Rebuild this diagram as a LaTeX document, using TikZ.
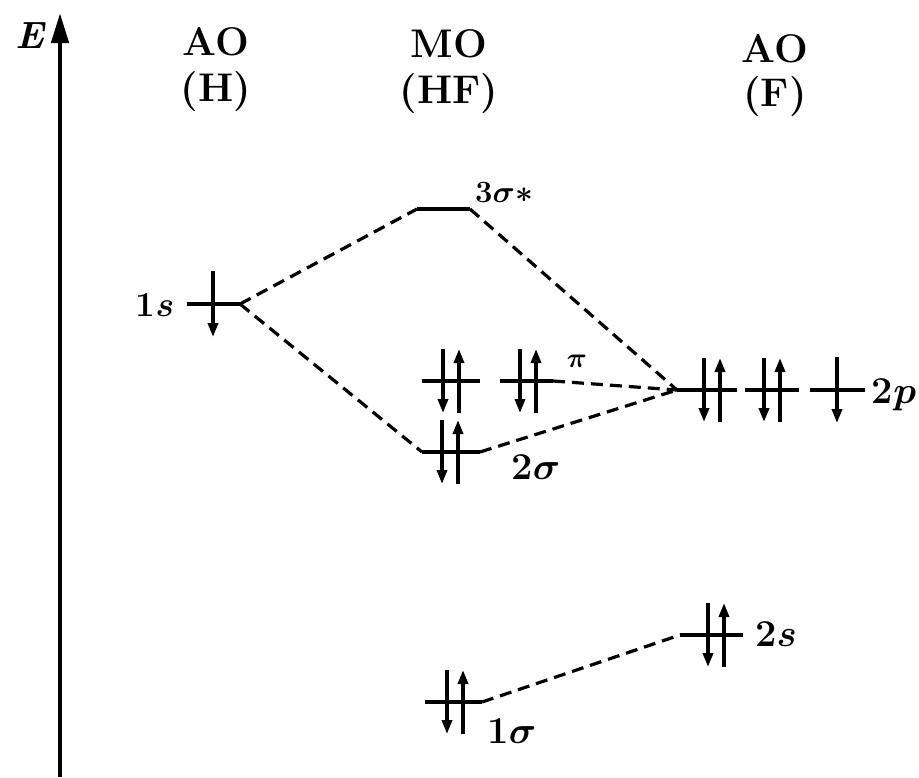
\RequirePackage{fix-cm}
\documentclass[tikz,border=0pt]{standalone}
\usetikzlibrary{arrows.meta}
\begin{document}
\begin{tikzpicture}[x=1pt,y=-1pt,
  lvl/.style={line width=4.5pt},
  conn/.style={line width=3.2pt, dash pattern=on 12pt off 7pt},
  elec/.style={line width=3.4pt,-{Triangle[length=14pt,width=10pt]}},
  hdr/.style={font=\fontsize{40}{48}\selectfont\bfseries, inner sep=0pt},
  lab/.style={font=\fontsize{38}{44}\selectfont\bfseries\boldmath, inner sep=0pt},
  pics/pair/.style={code={\draw[elec] (-8,-32) -- (-8,32); \draw[elec] (8,32) -- (8,-32);}},
  pics/single/.style={code={\draw[elec] (0,-33) -- (0,33);}}]
\useasboundingbox (0,0) rectangle (919,777);

% energy axis
\coordinate (ax0) at (60,777);
\coordinate (ax1) at (60,13);
\draw[line width=4.5pt,-{Triangle[length=30pt,width=17pt]}] (ax0) -- (ax1);
\node[font=\fontsize{38}{44}\selectfont\bfseries\itshape, inner sep=0pt] (E) at (30,36) {E};

% headers
\node[hdr] (aoh)  at (216,42) {AO};
\node[hdr] (aohl) at (216,92) {(H)};
\node[hdr] (mo)   at (449,44) {MO};
\node[hdr] (mol)  at (449,94) {(HF)};
\node[hdr] (aof)  at (775,49) {AO};
\node[hdr] (aofl) at (775,97) {(F)};

% levels
\coordinate (s1L) at (187,304);  \coordinate (s1R) at (240,304);
\coordinate (s3L) at (417,209);  \coordinate (s3R) at (470,209);
\coordinate (pi1L) at (422,381); \coordinate (pi1R) at (480,381);
\coordinate (pi2L) at (500,381); \coordinate (pi2R) at (553,381);
\coordinate (s2L) at (422,452);  \coordinate (s2R) at (480,452);
\coordinate (p1L) at (677,390);  \coordinate (p1R) at (737,390);
\coordinate (p2L) at (745,390);  \coordinate (p2R) at (799,390);
\coordinate (p3L) at (810,390);  \coordinate (p3R) at (865,390);
\coordinate (ssL) at (680,635);  \coordinate (ssR) at (743,635);
\coordinate (s1sL) at (425,702); \coordinate (s1sR) at (482,702);

\foreach \a/\b in {s1L/s1R,s3L/s3R,pi1L/pi1R,pi2L/pi2R,s2L/s2R,p1L/p1R,p2L/p2R,p3L/p3R,ssL/ssR,s1sL/s1sR}
  \draw[lvl] (\a) -- (\b);

% electrons
\pic at (213,304) {single};
\pic at (451,381) {pair};
\pic at (528,381) {pair};
\pic at (450,452) {pair};
\pic at (712,390) {pair};
\pic at (772,390) {pair};
\pic at (837,390) {single};
\pic at (716,635) {pair};
\pic at (455,702) {pair};

% correlation lines
\draw[conn] (s1R) -- (s3L);
\draw[conn] (s1R) -- (s2L);
\draw[conn] (s3R) -- (p1L);
\draw[conn] (pi2R) -- (p1L);
\draw[conn] (s2R) -- (p1L);
\draw[conn] (s1sR) -- (ssL);

% labels
\node[lab, font=\fontsize{35}{40}\selectfont\bfseries\boldmath] (l1s) at (155,305) {1$s$};
\node[font=\fontsize{31}{36}\selectfont\bfseries\boldmath, inner sep=0pt] (l3s) at (504,193) {3$\sigma{\ast}$};
\node[font=\fontsize{28}{32}\selectfont\bfseries\boldmath, inner sep=0pt] (lpi) at (577,361) {$\pi$};
\node[lab] (l2s) at (536,467) {2$\sigma$};
\node[lab] (l2p) at (894,395) {2$p$};
\node[lab] (l2ss) at (776,634) {2$s$};
\node[lab] (l1sg) at (512,731) {1$\sigma$};
\end{tikzpicture}
\end{document}
